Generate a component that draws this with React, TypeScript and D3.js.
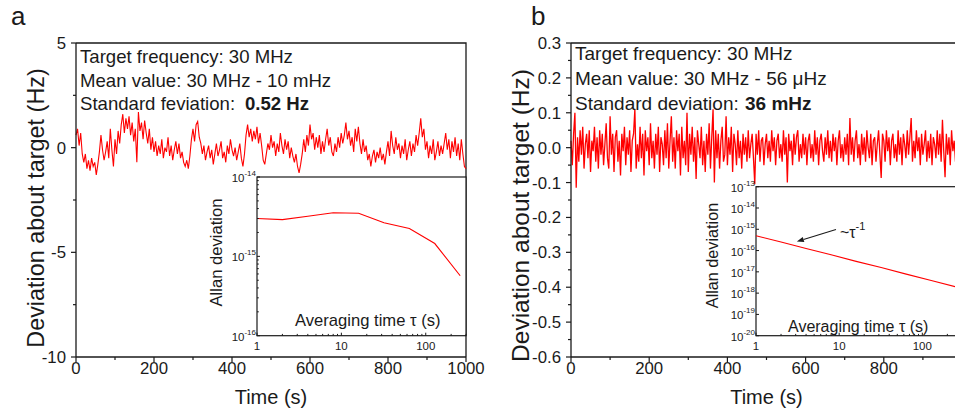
import React from "react";
import * as d3 from "d3";

const W = 955;
const H = 413;
const FONT = "'Liberation Sans', Arial, Helvetica, sans-serif";
const RED = "#ff0000";
const INK = "#1a1a1a";

// panel a: deviation about target (Hz), one reading every 4 s
const stepA = 4;
const devA = [
  0.6, 0.9, 0.1, 0.7, -0.3, -0.7, -0.3, -1.0, -0.6, -1.1,
  -0.5, -0.9, -0.7, -1.3, -0.8, -0.2, 0.6, -0.1, -0.6, -0.2,
  0.3, -0.5, 0.9, -0.1, -0.9, 0.4, -0.3, 0.8, 0.2, 1.1,
  1.6, 0.7, 1.4, 0.9, 1.5, 0.6, 1.2, 0.3, 0.9, -0.7,
  1.7, 0.8, 1.2, 0.4, 1.3, 0.7, 0.2, 0.9, -0.1, 0.5,
  -0.2, 0.3, -0.4, 0.1, -0.3, 0.4, -0.5, 0.0, -0.2, 0.5,
  -0.4, 0.1, -0.6, -0.1, 0.3, -0.3, 0.2, -0.5, -0.2, -0.7,
  -0.9, -0.6, -1.0, -0.4, 0.4, 0.9, 0.3, 1.1, 1.25, 0.5,
  0.2, -0.3, 0.1, -0.6, -0.2, 0.1, -0.5, -0.1, -0.8, -0.3,
  0.2, -0.4, -0.1, 0.3, -0.5, -0.2, -0.7, 0.1, -0.3, 0.4,
  -0.1, -0.4, 0.0, -0.6, -0.2, 0.2, -0.5, -0.9, -0.3, 0.6,
  1.1, 0.5, 0.9, 0.3, 0.8, 0.4, 1.0, 0.2, 0.7, 0.1,
  -0.6, -0.8, -0.3, 0.2, -0.1, 0.6, 0.0, 0.3, -0.4, 0.2,
  -0.2, 0.7, 0.1, -0.3, 0.4, -0.1, 0.3, -0.5, 0.0, -0.4,
  -0.7, -0.3, -0.9, -1.2, -0.8, -0.3, 0.4, -0.2, 0.6, 0.1,
  1.1, 0.4, 0.7, -0.1, 0.5, 0.0, 0.6, -0.3, 0.3, -0.2,
  0.4, 0.9, 0.1, 0.5, -0.2, -0.4, 0.2, -0.2, 0.5, 0.0,
  0.7, 0.2, 0.6, 1.2, 0.4, 0.8, 0.1, 0.5, -0.2, 0.9,
  0.3, 1.0, 0.2, -0.3, 0.4, -0.2, 0.1, -0.6, -0.3, -0.9,
  -0.4, -0.1, -0.7, -0.2, -0.5, 0.0, -0.6, -0.3, -0.8, -0.2,
  0.3, -0.4, 0.8, 0.1, -0.3, 0.5, -0.1, 0.2, -0.5, 0.1,
  -0.3, 0.4, -0.6, -0.1, 0.3, -0.4, 0.2, -0.2, 0.6, 0.1,
  0.7, 1.4, 0.5, 0.9, -0.1, 0.3, -0.5, 0.1, -0.3, 0.4,
  -0.6, -0.2, 0.3, -0.4, 0.1, -0.3, 0.2, 0.7, -0.1, 0.4,
  -0.5, 0.3, -0.2, 0.5, -0.4, 0.2, -0.6, 0.4, -0.3, -0.9,
  -1.0,
];

// panel b: deviation about target (Hz), one reading every 10/3 s
const stepB = 10 / 3;
const devB = [
  0.02, -0.05, 0.04, 0.10, -0.115, 0.03, -0.04, 0.05, -0.02, 0.06, -0.06, 0.01, 0.04, -0.03, 0.05, -0.07, 0.02, -0.01, 0.06, -0.04,
  0.03, -0.06, 0.05, -0.02, 0.04, -0.05, 0.01, 0.07, -0.03, -0.06, 0.09, -0.02, 0.04, -0.07, 0.03, 0.05, -0.04, 0.02, -0.08, 0.04,
  -0.01, 0.06, -0.05, 0.03, -0.02, 0.05, -0.07, 0.02, 0.04, 0.11, -0.06, 0.01, -0.04, 0.06, -0.03, 0.04, -0.08, 0.05, -0.01, 0.03,
  -0.05, 0.07, -0.03, 0.02, -0.06, 0.04, -0.02, 0.06, -0.07, 0.03, 0.01, -0.05, 0.05, -0.03, 0.07, -0.06, 0.02, 0.09, -0.04, 0.03,
  -0.06, 0.05, -0.01, 0.04, -0.08, 0.06, -0.03, 0.02, -0.05, 0.10, -0.07, 0.04, -0.02, 0.06, -0.04, 0.03, -0.09, 0.05, 0.01, -0.03,
  0.06, -0.05, 0.02, -0.07, 0.04, -0.02, 0.07, -0.06, 0.03, 0.11, -0.10, 0.05, -0.03, 0.04, -0.06, 0.02, 0.06, -0.04, -0.02, 0.09,
  -0.05, 0.03, -0.02, 0.06, -0.07, 0.04, 0.01, -0.05, 0.05, -0.03, 0.02, -0.06, 0.04, -0.02, 0.03, -0.04, 0.05, -0.03, 0.01, 0.04,
  -0.03, -0.105, 0.04, -0.02, 0.05, -0.04, 0.02, 0.03, -0.05, 0.01, 0.04, -0.03, 0.02, -0.04, 0.05, -0.01, 0.03, -0.05, 0.02, 0.04,
  -0.03, 0.01, -0.04, 0.05, -0.02, 0.03, -0.10, 0.04, -0.01, 0.02, -0.05, 0.04, -0.02, 0.03, 0.05, -0.04, 0.01, -0.03, 0.04, -0.02,
  0.03, -0.05, 0.02, 0.04, -0.03, 0.01, -0.04, 0.05, -0.02, 0.03, -0.05, 0.02, 0.04, -0.01, -0.04, 0.03, -0.02, 0.05, -0.03, 0.02,
  -0.04, 0.04, -0.01, 0.03, -0.05, 0.02, 0.05, -0.03, 0.01, -0.04, 0.03, -0.02, 0.04, -0.05, 0.085, -0.02, 0.03, -0.04, 0.02, 0.05,
  -0.03, 0.01, -0.05, 0.04, -0.02, 0.03, -0.04, 0.05, 0.00, -0.03, 0.04, -0.05, 0.02, 0.03, -0.04, 0.01, 0.05, -0.02, -0.087, 0.04,
  0.02, -0.04, 0.05, -0.01, 0.03, -0.05, 0.02, 0.04, -0.03, 0.01, -0.04, 0.05, -0.02, 0.03, -0.05, 0.04, 0.01, -0.03, 0.05, -0.02,
  0.03, 0.085, -0.04, 0.02, -0.03, 0.05, -0.01, 0.03, -0.05, 0.04, -0.02, 0.01, 0.05, -0.04, 0.02, -0.03, 0.04, -0.05, 0.03, 0.01,
  -0.03, 0.05, -0.02, 0.04, -0.04, 0.08, -0.01, -0.085, 0.04, -0.02, 0.03, -0.05, 0.05, -0.01, 0.02, -0.04, 0.04, -0.03, 0.05, -0.02,
];

// Allan deviation insets
const tauA = [1, 2, 4, 8, 16, 32, 64, 128, 256];
const allanA = [3.0e-15, 2.9e-15, 3.2e-15, 3.55e-15, 3.5e-15, 2.65e-15, 2.25e-15, 1.45e-15, 5.7e-16];
const tauB = [1, 2, 4, 8, 16, 32, 64, 128, 256];
const allanB = [5.0e-16, 2.5e-16, 1.25e-16, 6.3e-17, 3.1e-17, 1.6e-17, 7.8e-18, 3.9e-18, 1.95e-18];

// ticks
const timeTicksA = [0, 200, 400, 600, 800, 1000];
const timeTicksB = [0, 200, 400, 600, 800];
const timeMinor = [100, 300, 500, 700, 900];
const aYTicks = [5, 0, -5, -10];
const aYMinor = [2.5, -2.5, -7.5];
const bYTicks = [0.3, 0.2, 0.1, 0.0, -0.1, -0.2, -0.3, -0.4, -0.5, -0.6];
const bYMinor = [0.25, 0.15, 0.05, -0.05, -0.15, -0.25, -0.35, -0.45, -0.55];
const insetXTicks = [1, 10, 100];
const insetAYExp = [-14, -15, -16];
const insetBYExp = [-13, -14, -15, -16, -17, -18, -19, -20];

const infoA = ["Target frequency: 30 MHz", "Mean value: 30 MHz - 10 mHz", "Standard feviation: "];
const infoB = ["Target frequency: 30 MHz", "Mean value: 30 MHz - 56 \u03bcHz", "Standard deviation: "];

const isDecade = (v: number) => Math.abs(Math.log10(v) - Math.round(Math.log10(v))) < 1e-6;

function TimePanel(p: any) {
  const x = d3.scaleLinear().domain([0, 1000]).range([p.x0, p.x1]);
  const y = d3.scaleLinear().domain(p.yDomain).range([357, 43]);
  const line = d3
    .line<number>()
    .x((_, i) => x(i * p.step))
    .y((d) => y(d));
  const [yb, yt] = p.yDomain;
  return (
    <g fontFamily={FONT} fill={INK}>
      <text x={p.letterX} y={25} fontSize={26}>{p.letter}</text>
      {/* frame */}
      <path
        d={`M${x(0)},${y(yt)}H${x(1000)}V${y(yb)}`}
        fill="none"
        stroke={INK}
        strokeWidth={1.3}
      />
      <path d={line(p.data) || ""} fill="none" stroke={RED} strokeWidth={p.lineWidth} />
      {/* axes */}
      <line x1={x(0)} x2={x(1000)} y1={y(yb)} y2={y(yb)} stroke={INK} strokeWidth={1.3} />
      <line x1={x(0)} x2={x(0)} y1={y(yb)} y2={y(yt)} stroke={INK} strokeWidth={1.3} />
      {p.xTicks.map((t: number) => (
        <g key={"xt" + t}>
          <line x1={x(t)} x2={x(t)} y1={y(yb)} y2={y(yb) + 5} stroke={INK} strokeWidth={1.2} />
          <text x={x(t)} y={374} fontSize={16.8} textAnchor="middle">{t}</text>
        </g>
      ))}
      {timeMinor.map((t) => (
        <line key={"xm" + t} x1={x(t)} x2={x(t)} y1={y(yb)} y2={y(yb) + 3} stroke={INK} strokeWidth={1.2} />
      ))}
      {p.yTicks.map((v: number) => (
        <g key={"yt" + v}>
          <line x1={x(0) - 5} x2={x(0)} y1={y(v)} y2={y(v)} stroke={INK} strokeWidth={1.2} />
          <text x={x(0) - 10} y={y(v) + 6} fontSize={16.8} textAnchor="end">{p.fmt(v)}</text>
        </g>
      ))}
      {p.yMinor.map((v: number) => (
        <line key={"ym" + v} x1={x(0) - 3} x2={x(0)} y1={y(v)} y2={y(v)} stroke={INK} strokeWidth={1.2} />
      ))}
      <text x={(p.x0 + p.x1) / 2} y={404} fontSize={20} textAnchor="middle">Time (s)</text>
      <text
        transform={`translate(${p.yTitleX},${p.yTitleY}) rotate(-90)`}
        fontSize={p.yTitleSize}
        textAnchor="middle"
      >
        Deviation about target (Hz)
      </text>
      {p.info.map((s: string, i: number) => (
        <text key={"i" + i} x={p.infoX} y={p.infoY[i]} fontSize={p.infoSize} xmlSpace="preserve">
          {s}
        </text>
      ))}
      <text x={p.boldX} y={p.infoY[2]} fontSize={p.infoSize} fontWeight="bold">{p.bold}</text>
    </g>
  );
}

function AllanInset(p: any) {
  const x = d3.scaleLog().domain([1, 300]).range([p.x0, p.x1]);
  const y = d3.scaleLog().domain(p.yDomain).range([p.y0, p.y1]);
  const line = d3
    .line<number>()
    .x((_, i) => x(p.tau[i]))
    .y((d) => y(d));
  const xMinor = x.ticks().filter((v) => !isDecade(v));
  const yMinor = p.yMinor ? y.ticks().filter((v) => !isDecade(v)) : [];
  return (
    <g fontFamily={FONT} fill={INK}>
      <rect x={p.x0} y={p.y1} width={p.x1 - p.x0} height={p.y0 - p.y1} fill="#fff" stroke={INK} strokeWidth={1.2} />
      <path d={line(p.values) || ""} fill="none" stroke={RED} strokeWidth={1.1} />
      {insetXTicks.map((t) => (
        <g key={"ix" + t}>
          <line x1={x(t)} x2={x(t)} y1={p.y0} y2={p.y0 - 3} stroke={INK} />
          <text x={x(t)} y={350} fontSize={11.5} textAnchor="middle">{t}</text>
        </g>
      ))}
      {xMinor.map((t) => (
        <line key={"ixm" + t} x1={x(t)} x2={x(t)} y1={p.y0} y2={p.y0 - 1.8} stroke={INK} />
      ))}
      {p.yExp.map((e: number) => (
        <g key={"iy" + e}>
          <line x1={p.x0} x2={p.x0 + 3} y1={y(Math.pow(10, e))} y2={y(Math.pow(10, e))} stroke={INK} />
          <text x={p.x0 - 1} y={y(Math.pow(10, e)) + 5} fontSize={11.5} textAnchor="end">
            10<tspan dy={-6} fontSize={8}>{e}</tspan>
          </text>
        </g>
      ))}
      {yMinor.map((v) => (
        <line key={"iym" + v} x1={p.x0} x2={p.x0 + 1.8} y1={y(v)} y2={y(v)} stroke={INK} />
      ))}
      <text
        transform={`translate(${p.titleX},${p.titleY}) rotate(-90)`}
        fontSize={p.titleSize}
        textAnchor="middle"
      >
        Allan deviation
      </text>
      <text x={p.xlabX} y={p.xlabY} fontSize={p.xlabSize}>
        Averaging time {"\u03c4"} (s)
      </text>
      {p.arrow && (() => {
        const [t0, v0, t1, v1, tt, vt] = p.arrow;
        const ax = x(t0), ay = y(v0), bx = x(t1), by = y(v1);
        const ang = Math.atan2(by - ay, bx - ax);
        const hl = 7, hw = 2.6;
        const px = bx - hl * Math.cos(ang), py = by - hl * Math.sin(ang);
        const nx = -Math.sin(ang) * hw, ny = Math.cos(ang) * hw;
        return (
          <g>
            <line x1={ax} y1={ay} x2={px} y2={py} stroke={INK} strokeWidth={1.1} />
            <path d={`M${bx},${by}L${px + nx},${py + ny}L${px - nx},${py - ny}Z`} fill={INK} />
            <text x={x(tt)} y={y(vt)} fontSize={16}>
              ~{"\u03c4"}<tspan dy={-8} fontSize={11}>-1</tspan>
            </text>
          </g>
        );
      })()}
    </g>
  );
}

export default function App() {
  return (
    <svg
      width={W}
      height={H}
      viewBox={`0 0 ${W} ${H}`}
      style={{ position: "absolute", left: 0, top: 0, background: "#fff" }}
    >
      <rect width={W} height={H} fill="#fff" />
      <TimePanel
        data={devA}
        step={stepA}
        lineWidth={1.1}
        x0={76}
        x1={466}
        xTicks={timeTicksA}
        yDomain={[-10, 5]}
        yTicks={aYTicks}
        yMinor={aYMinor}
        fmt={(v: number) => String(v)}
        letter="a"
        letterX={11}
        yTitleX={44}
        yTitleY={208}
        yTitleSize={23.4}
        info={infoA}
        infoX={80}
        infoY={[63.3, 86.5, 110]}
        infoSize={18.6}
        boldX={245}
        bold="0.52 Hz"
      />
      <AllanInset
        tau={tauA}
        values={allanA}
        x0={257}
        x1={466}
        y0={335.7}
        y1={177}
        yDomain={[1e-16, 1e-14]}
        yExp={insetAYExp}
        yMinor={true}
        titleX={222}
        titleY={252.5}
        titleSize={16.6}
        xlabX={295}
        xlabY={326}
        xlabSize={16.6}
      />
      <TimePanel
        data={devB}
        step={stepB}
        lineWidth={1.3}
        x0={571}
        x1={962}
        xTicks={timeTicksB}
        yDomain={[-0.6, 0.3]}
        yTicks={bYTicks}
        yMinor={bYMinor}
        fmt={(v: number) => v.toFixed(1)}
        letter="b"
        letterX={531}
        yTitleX={529}
        yTitleY={215.5}
        yTitleSize={24.5}
        info={infoB}
        infoX={575}
        infoY={[60.3, 85, 110]}
        infoSize={19}
        boldX={745}
        bold="36 mHz"
      />
      <AllanInset
        tau={tauB}
        values={allanB}
        x0={756}
        x1={962}
        y0={335.7}
        y1={186.7}
        yDomain={[1e-20, 1e-13]}
        yExp={insetBYExp}
        yMinor={false}
        titleX={718}
        titleY={255.5}
        titleSize={16.2}
        xlabX={788}
        xlabY={332}
        xlabSize={16}
        arrow={[9.15, 9.8e-16, 3.1, 2.67e-16, 10.2, 3.9e-16]}
      />
    </svg>
  );
}
